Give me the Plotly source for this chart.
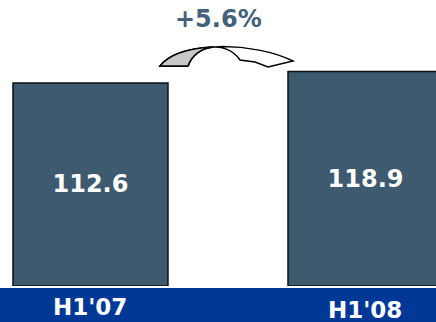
import plotly.graph_objects as go

# Half-year figures
periods = ["H1'07", "H1'08"]
values = [112.6, 118.9]

W, H = 436, 322
BOTTOM = 36                     # height of the blue footer band
PLOT_H = H - BOTTOM

BAR_COLOR = "#3e5a6f"
BAND_COLOR = "#003896"
GROWTH_COLOR = "#44617a"
FONT = "DejaVu Sans"

growth = (values[1] / values[0] - 1) * 100

fig = go.Figure()
fig.add_trace(go.Bar(
    x=periods,
    y=values,
    width=0.5636,
    marker=dict(color=BAR_COLOR, line=dict(color="#111111", width=1.5)),
    text=[f"{v:.1f}" for v in values],
    textposition="inside",
    insidetextanchor="middle",
    textfont=dict(family=FONT, size=24, color="white", weight="bold"),
    cliponaxis=True,
    hoverinfo="skip",
))


def to_paper(p):
    return p[0] / W, (PLOT_H - p[1]) / PLOT_H


def fmt(p):
    x, y = to_paper(p)
    return f"{x:.4f},{y:.4f}"


def split_bezier(p0, p1, p2, p3, t):
    """De Casteljau split; returns control points of the left part."""
    lerp = lambda a, b: (a[0] + (b[0] - a[0]) * t, a[1] + (b[1] - a[1]) * t)
    a, b, c = lerp(p0, p1), lerp(p1, p2), lerp(p2, p3)
    d, e = lerp(a, b), lerp(b, c)
    f = lerp(d, e)
    return p0, a, d, f


# Curved growth arrow (pixel geometry): outer edge, inner edge and head
outer = [(160, 66), (180, 40), (255, 42), (293, 61)]
inner = [(188, 66), (196, 44), (226, 40), (240, 60)]
head = [(268, 67), (255, 62)]

arrow_full = (
    f"M {fmt(outer[0])} C {fmt(outer[1])} {fmt(outer[2])} {fmt(outer[3])} "
    f"L {fmt(head[0])} L {fmt(head[1])} L {fmt(inner[3])} "
    f"C {fmt(inner[2])} {fmt(inner[1])} {fmt(inner[0])} Z"
)
o = split_bezier(*outer, 0.45)
i = split_bezier(*inner, 0.5)
arrow_back = (
    f"M {fmt(o[0])} C {fmt(o[1])} {fmt(o[2])} {fmt(o[3])} "
    f"L {fmt(i[3])} C {fmt(i[2])} {fmt(i[1])} {fmt(i[0])} Z"
)

shapes = [
    dict(type="rect", xref="paper", yref="paper",
         x0=0, x1=1, y0=-BOTTOM / PLOT_H, y1=-2 / PLOT_H,
         fillcolor=BAND_COLOR, line=dict(width=0), layer="below"),
    dict(type="path", xref="paper", yref="paper", path=arrow_full,
         fillcolor="white", line=dict(color="black", width=1.5)),
    dict(type="path", xref="paper", yref="paper", path=arrow_back,
         fillcolor="#c8c8c8", line=dict(color="black", width=1.5)),
]

label_y_px = [307, 310]
annotations = [
    dict(x=p, xref="x", y=(PLOT_H - ly) / PLOT_H, yref="paper",
         text=p, showarrow=False, xanchor="center", yanchor="middle",
         font=dict(family=FONT, size=23, color="white", weight="bold"))
    for p, ly in zip(periods, label_y_px)
]
annotations.append(dict(
    x=218 / W, xref="paper", y=(PLOT_H - 19) / PLOT_H, yref="paper",
    text=f"+{growth:.1f}%", showarrow=False, xanchor="center", yanchor="middle",
    font=dict(family=FONT, size=24, color=GROWTH_COLOR, weight="bold"),
))

fig.update_layout(
    width=W, height=H,
    margin=dict(l=0, r=0, t=0, b=BOTTOM),
    paper_bgcolor="white", plot_bgcolor="white",
    showlegend=False,
    xaxis=dict(range=[-0.329, 1.2564], showticklabels=False, showgrid=False,
               zeroline=False, showline=False, ticks=""),
    yaxis=dict(range=[0, 158.6], showticklabels=False, showgrid=False,
               zeroline=False, showline=False, ticks=""),
    shapes=shapes,
    annotations=annotations,
)

fig.write_html("out.html", config={"displayModeBar": False})
